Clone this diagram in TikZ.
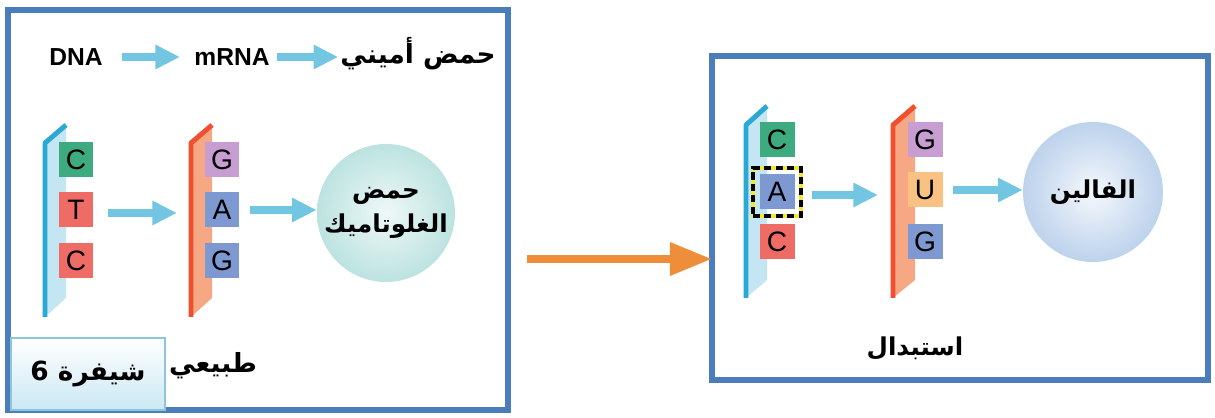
\documentclass[tikz,border=0pt]{standalone}
\usepackage{fontspec}
\setmainfont{Liberation Sans}
\newfontfamily\arabicfont[Script=Arabic]{DejaVu Sans}
\TeXXeTstate=1
\usetikzlibrary{arrows.meta,positioning,shadows}
\definecolor{frameblue}{HTML}{4A7DBA}
\definecolor{arrowblue}{HTML}{73C6E2}
\definecolor{arroworange}{HTML}{EF8E3A}
\definecolor{dnablue}{HTML}{2AA8D6}
\definecolor{dnapale}{HTML}{C4E5F2}
\definecolor{rnared}{HTML}{F0502F}
\definecolor{rnapale}{HTML}{F6A884}
\definecolor{bgreen}{HTML}{3DAA80}
\definecolor{bred}{HTML}{EE6B66}
\definecolor{bpurple}{HTML}{C79DD2}
\definecolor{bblue}{HTML}{7E98D2}
\definecolor{borange}{HTML}{F9C282}
\definecolor{hlyellow}{HTML}{F2E832}
\definecolor{tealedge}{HTML}{BCE3E0}
\definecolor{tealmid}{HTML}{EEF8F7}
\definecolor{blueedge}{HTML}{BDD2EC}
\definecolor{bluemid}{HTML}{F5F8FC}
\definecolor{tagedge}{HTML}{8CC6D8}
\definecolor{tagbottom}{HTML}{CBE8F3}
\newcommand{\artext}[1]{{\arabicfont\bfseries\beginR #1\endR}}

\begin{document}
\begin{tikzpicture}[
  x=0.02cm, y=-0.02cm,
  frame/.style={draw=frameblue, line width=3.4pt, fill=white, outer sep=0pt,
    drop shadow={shadow xshift=2pt, shadow yshift=-2pt, opacity=0.3}},
  base/.style={minimum size=0.7cm, inner sep=0pt, font=\fontsize{16}{16}\selectfont},
  word/.style={font=\fontsize{14}{16}\selectfont\bfseries, inner sep=2pt},
  artxt/.style={font=\fontsize{15}{19}\selectfont, align=center, inner sep=1pt},
  arr/.style={-{Triangle[length=14pt, width=13pt]}, line width=4pt, draw=arrowblue},
  orarr/.style={-{Triangle[length=24pt, width=18pt]}, line width=4.5pt, draw=arroworange},
  dnaline/.style={draw=dnablue, line width=2.8pt, line join=round},
  rnaline/.style={draw=rnared, line width=2.8pt, line join=round},
  hl/.style={draw=hlyellow, line width=2.6pt, minimum size=0.96cm, inner sep=0pt,
    postaction={draw=black, line width=1.8pt, dash pattern=on 4pt off 2.5pt}},
  tag/.style={draw=tagedge, line width=0.8pt, top color=white, bottom color=tagbottom,
    minimum width=3.08cm, minimum height=1.44cm, font=\fontsize{15}{18}\selectfont}
]
\useasboundingbox (0,0) rectangle (1215,418);

% frames
\node[frame, minimum width=10cm, minimum height=8cm] (leftbox) at (258,210) {};
\node[frame, minimum width=9.92cm, minimum height=6.48cm] (rightbox) at (960,218) {};

% normal code: top line
\node[word] (dna) at (76,57) {DNA};
\node[word] (mrna) at (232,57) {mRNA};
\node[artxt] (amino) at (418,54) {\artext{حمض أميني}};
\draw[arr, shorten <=9pt, shorten >=6pt] (dna) -- (mrna);
\draw[arr, shorten <=2pt] (mrna.east) -- (mrna.east -| amino.west);

% normal code: strands
\fill[dnapale] (45,143) -- (66,125) -- (66,298) -- (45,317) -- cycle;
\draw[dnaline] (66,125) -- (45,143) -- (45,317);
\fill[rnapale] (191,143) -- (212,125) -- (212,298) -- (191,317) -- cycle;
\draw[rnaline] (212,125) -- (191,143) -- (191,317);

\node[base, fill=bgreen] (c1) at (76,160) {C};
\node[base, fill=bred] (t1) at (76,210) {T};
\node[base, fill=bred] (c2) at (76,261) {C};
\node[base, fill=bpurple] (g1) at (222,160) {G};
\node[base, fill=bblue] (a1) at (222,210) {A};
\node[base, fill=bblue] (g2) at (222,261) {G};

\node[circle, minimum size=2.64cm, inner color=tealmid, outer color=tealedge,
  artxt, font=\fontsize{14}{19}\selectfont] (glu) at (386,213) {\artext{حمض}\\\artext{الغلوتاميك}};

\coordinate (mleft) at (177,213);
\draw[arr] ([xshift=8pt]t1.east |- mleft) -- (mleft);
\draw[arr] ([xshift=6pt]a1.east) -- (a1.east -| glu.west);

\node[tag] (code) at (88,374) {\artext{شيفرة 6}};
\node[artxt] (natural) at (213,366) {\artext{طبيعي}};

% mutated code
\fill[dnapale] (746,125) -- (767,106) -- (767,280) -- (746,298) -- cycle;
\draw[dnaline] (767,106) -- (746,125) -- (746,298);
\fill[rnapale] (893,125) -- (915,106) -- (915,280) -- (893,298) -- cycle;
\draw[rnaline] (915,106) -- (893,125) -- (893,298);

\node[base, fill=bgreen] (c3) at (777,140) {C};
\node[base, fill=bblue] (a2) at (777,192) {A};
\node[hl] (mark) at (a2) {};
\node[base, fill=bred] (c4) at (777,242) {C};
\node[base, fill=bpurple] (g3) at (925,140) {G};
\node[base, fill=borange] (u1) at (925,190) {U};
\node[base, fill=bblue] (g4) at (925,242) {G};

\node[circle, minimum size=2.8cm, inner color=bluemid, outer color=blueedge,
  artxt, font=\fontsize{14}{19}\selectfont] (val) at (1093,192) {\artext{الفالين}};

\coordinate (mright) at (878,195);
\draw[arr] ([xshift=5pt]mark.east |- mright) -- (mright);
\draw[arr] ([xshift=6pt]u1.east) -- (u1.east -| val.west);

\node[artxt, font=\fontsize{14}{19}\selectfont] (subst) at (915,348) {\artext{استبدال}};

% between the two
\coordinate (ostart) at (527,259);
\draw[orarr] (ostart) -- (ostart -| rightbox.west);
\end{tikzpicture}
\end{document}
